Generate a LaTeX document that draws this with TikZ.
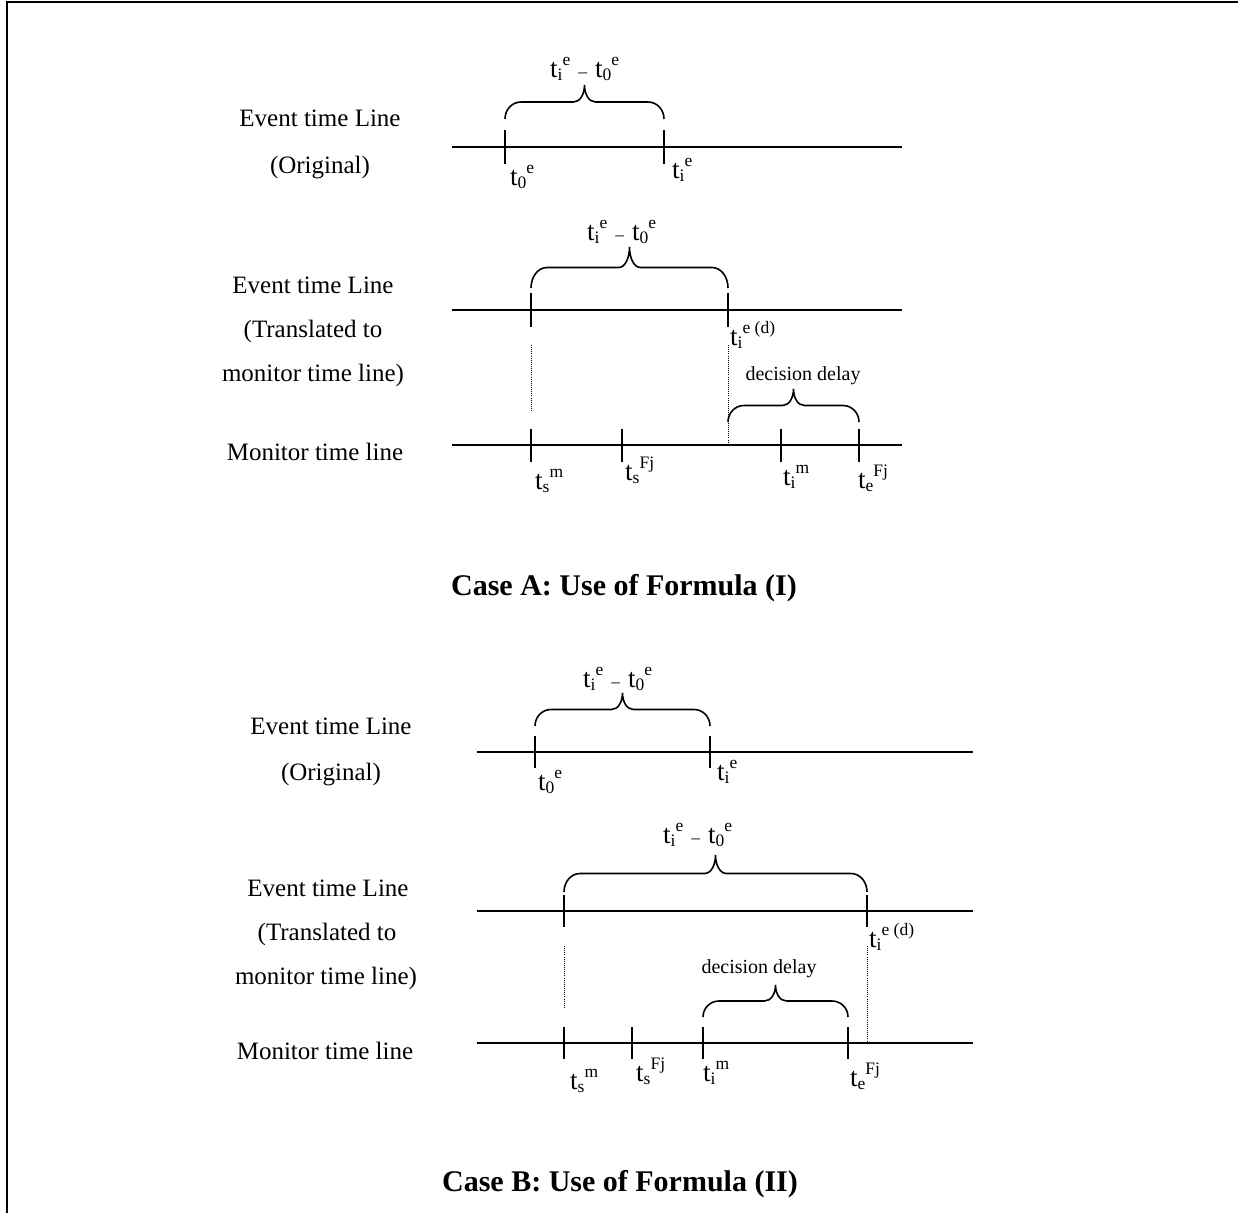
\documentclass[tikz,border=0pt]{standalone}
\usepackage{fontspec}
\setmainfont{Liberation Serif}

% type sizes
\newcommand{\lblsz}{\fontsize{25}{30}\selectfont}
\newcommand{\tsz}{\fontsize{27}{30}\selectfont}
\newcommand{\scrsz}{\fontsize{17.5}{18}\selectfont}
\newcommand{\delaysz}{\fontsize{20}{24}\selectfont}
\newcommand{\captsz}{\fontsize{30}{36}\selectfont}

% time symbol t with a subscript followed by a superscript
\newcommand{\tsym}[2]{{\tsz t}\raisebox{-0.3ex}{\scrsz #1}\raisebox{1ex}{\scrsz #2}}
\newcommand{\tdiff}{\tsym{i}{e}\hspace{8pt}{\scrsz\textendash}\hspace{8pt}\tsym{0}{e}}

% horizontal curly brace: left x, right x, foot y, height
\newcommand{\hbrace}[4]{%
  \pgfmathsetmacro\bm{(#1+#2)/2}%
  \pgfmathsetmacro\bh{#4/2}%
  \draw[bracestyle] (#1,#3)
    .. controls (#1,#3-0.55*\bh) and (#1+7,#3-\bh) .. (#1+16,#3-\bh)
    -- (\bm-11,#3-\bh)
    .. controls (\bm-4,#3-\bh) and (\bm,#3-1.5*\bh) .. (\bm,#3-#4)
    .. controls (\bm,#3-1.5*\bh) and (\bm+4,#3-\bh) .. (\bm+11,#3-\bh)
    -- (#2-16,#3-\bh)
    .. controls (#2-7,#3-\bh) and (#2,#3-0.55*\bh) .. (#2,#3);
}

\begin{document}
\begin{tikzpicture}[x=1pt,y=-1pt,
  every node/.style={inner sep=0pt, font=\lblsz},
  timeline/.style={line width=1.6pt},
  tickmark/.style={line width=1.6pt},
  guide/.style={line width=0.9pt, dash pattern=on 0.9pt off 1.2pt},
  bracestyle/.style={line width=1.6pt},
  frame/.style={line width=2pt},
  caption/.style={anchor=base, font=\captsz\bfseries},
  sidelabel/.style={anchor=base},
  ticklabel/.style={anchor=base west},
  delaylabel/.style={anchor=base, font=\delaysz},
]
\useasboundingbox (0,0) rectangle (1238,1213);
\draw[frame] (6.5,1213) -- (6.5,2) -- (1238,2);

% ================= Case A =================
% side labels
\node[sidelabel] (a1) at (320,126) {Event time Line};
\node[sidelabel] (a2) at (320,173) {(Original)};
\node[sidelabel] (a3) at (313,293) {Event time Line};
\node[sidelabel] (a4) at (313,337) {(Translated to};
\node[sidelabel] (a5) at (313,381) {monitor time line)};
\node[sidelabel] (a6) at (315,460) {Monitor time line};

% original event time line
\coordinate (A1l) at (452,147); \coordinate (A1r) at (902,147);
\draw[timeline] (A1l) -- (A1r);
\coordinate (A1t0) at (505,147); \coordinate (A1ti) at (664,147);
\foreach \c in {A1t0,A1ti} \draw[tickmark] ([yshift=17pt]\c) -- ([yshift=-17pt]\c);
\hbrace{505}{664}{119}{34}
\node[ticklabel] (a1d) at (550,77) {\tdiff};
\node[ticklabel] (a1t0) at (510,185) {\tsym{0}{e}};
\node[ticklabel] (a1ti) at (672,178) {\tsym{i}{e}};

% translated event time line
\coordinate (A2l) at (452,310); \coordinate (A2r) at (902,310);
\draw[timeline] (A2l) -- (A2r);
\coordinate (A2t0) at (531,310); \coordinate (A2ti) at (728,310);
\foreach \c in {A2t0,A2ti} \draw[tickmark] ([yshift=17pt]\c) -- ([yshift=-17pt]\c);
\hbrace{531}{728}{288}{41}
\node[ticklabel] (a2d) at (587,240) {\tdiff};
\node[ticklabel] (a2ti) at (730,345) {\tsym{i}{e (d)}};

% monitor time line
\coordinate (AMl) at (452,445); \coordinate (AMr) at (902,445);
\draw[timeline] (AMl) -- (AMr);
\coordinate (AMs) at (531,445); \coordinate (AMf) at (622,445);
\coordinate (AMi) at (781,445); \coordinate (AMe) at (859,445);
\coordinate (AMd) at (728,445);
\foreach \c in {AMs,AMf,AMi,AMe} \draw[tickmark] ([yshift=16.5pt]\c) -- ([yshift=-16.5pt]\c);
\coordinate (AG1a) at (531,345); \coordinate (AG1b) at (531,412);
\coordinate (AG2a) at (728,345);
\draw[guide] (AG1a) -- (AG1b);
\draw[guide] (AG2a) -- (AMd);
\hbrace{728}{859}{422}{33}
\node[delaylabel] (add) at (803,380) {decision delay};
\node[ticklabel] (ams) at (535,489) {\tsym{s}{m}};
\node[ticklabel] (amf) at (625,480) {\tsym{s}{Fj}};
\node[ticklabel] (ami) at (783,485) {\tsym{i}{m}};
\node[ticklabel] (ame) at (858,488) {\tsym{e}{Fj}};

\node[caption] (capA) at (624,595) {Case A: Use of Formula (I)};

% ================= Case B =================
\node[sidelabel] (b1) at (331,734) {Event time Line};
\node[sidelabel] (b2) at (331,780) {(Original)};
\node[sidelabel] (b3) at (328,896) {Event time Line};
\node[sidelabel] (b4) at (327,940) {(Translated to};
\node[sidelabel] (b5) at (326,984) {monitor time line)};
\node[sidelabel] (b6) at (325,1059) {Monitor time line};

% original event time line
\coordinate (B1l) at (477,752); \coordinate (B1r) at (973,752);
\draw[timeline] (B1l) -- (B1r);
\coordinate (B1t0) at (535,752); \coordinate (B1ti) at (710,752);
\foreach \c in {B1t0,B1ti} \draw[tickmark] ([yshift=16pt]\c) -- ([yshift=-16pt]\c);
\hbrace{535}{710}{726}{33}
\node[ticklabel] (b1d) at (583,687) {\tdiff};
\node[ticklabel] (b1t0) at (538,790) {\tsym{0}{e}};
\node[ticklabel] (b1ti) at (717,780) {\tsym{i}{e}};

% translated event time line
\coordinate (B2l) at (477,911); \coordinate (B2r) at (973,911);
\draw[timeline] (B2l) -- (B2r);
\coordinate (B2t0) at (564,911); \coordinate (B2ti) at (867,911);
\foreach \c in {B2t0,B2ti} \draw[tickmark] ([yshift=16pt]\c) -- ([yshift=-16pt]\c);
\hbrace{564}{867}{892}{37}
\node[ticklabel] (b2d) at (663,843) {\tdiff};
\node[ticklabel] (b2ti) at (869,947) {\tsym{i}{e (d)}};

% monitor time line
\coordinate (BMl) at (477,1043); \coordinate (BMr) at (973,1043);
\draw[timeline] (BMl) -- (BMr);
\coordinate (BMs) at (564,1043); \coordinate (BMf) at (632,1043);
\coordinate (BMi) at (703,1043); \coordinate (BMe) at (848,1043);
\coordinate (BMd) at (867,1043);
\foreach \c in {BMs,BMf,BMi,BMe} \draw[tickmark] ([yshift=16pt]\c) -- ([yshift=-16pt]\c);
\coordinate (BG1a) at (564,946); \coordinate (BG1b) at (564,1008);
\coordinate (BG2a) at (867,946);
\draw[guide] (BG1a) -- (BG1b);
\draw[guide] (BG2a) -- (BMd);
\hbrace{703}{848}{1017}{32}
\node[delaylabel] (bdd) at (759,973) {decision delay};
\node[ticklabel] (bms) at (570,1089) {\tsym{s}{m}};
\node[ticklabel] (bmf) at (636,1081) {\tsym{s}{Fj}};
\node[ticklabel] (bmi) at (703,1081) {\tsym{i}{m}};
\node[ticklabel] (bme) at (850,1086) {\tsym{e}{Fj}};

\node[caption] (capB) at (620,1191) {Case B: Use of Formula (II)};
\end{tikzpicture}
\end{document}
